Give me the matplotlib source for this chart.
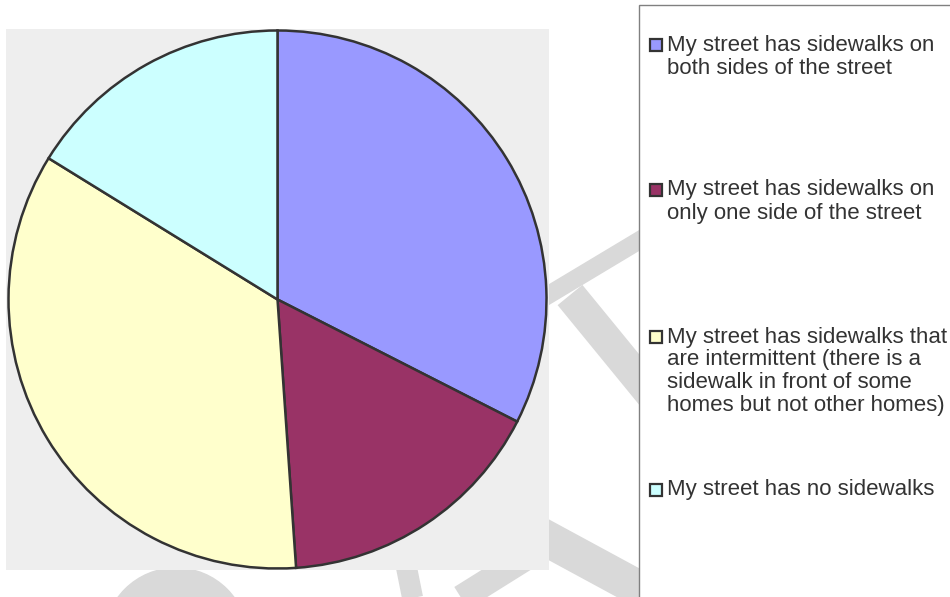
import numpy as np
import matplotlib.pyplot as plt
from matplotlib.patches import Rectangle, Circle

# ================= data =================
labels = [
    "My street has sidewalks on\nboth sides of the street",
    "My street has sidewalks on\nonly one side of the street",
    "My street has sidewalks that\nare intermittent (there is a\nsidewalk in front of some\nhomes but not other homes)",
    "My street has no sidewalks",
]
shares = [32.5, 16.4, 34.9, 16.2]
colors = ["#9999ff", "#993366", "#ffffcc", "#ccffff"]

W, H = 950, 597
PX = 0.72  # points per pixel at dpi 100

plt.rcParams['font.family'] = ['Liberation Sans', 'DejaVu Sans']

fig = plt.figure(figsize=(W / 100, H / 100), dpi=100)

# ---------- background layer (pixel coords, y down) ----------
bg = fig.add_axes([0, 0, 1, 1], zorder=0)
bg.set_xlim(0, W)
bg.set_ylim(H, 0)
bg.axis('off')

# faint watermark strokes
wm = "#d9d9d9"
bg.add_patch(Circle((176, 640), 72, color=wm, zorder=1))
bg.plot([405, 413], [560, 600], color=wm, lw=21 * PX, solid_capstyle='butt', zorder=1)
bg.plot([450, 530], [605, 555], color=wm, lw=26 * PX, solid_capstyle='butt', zorder=1)
bg.plot([540, 660], [300, 228], color=wm, lw=18 * PX, solid_capstyle='butt', zorder=1)
bg.plot([570, 660], [295, 405], color=wm, lw=32 * PX, solid_capstyle='butt', zorder=1)
bg.plot([540, 660], [535, 600], color=wm, lw=36 * PX, solid_capstyle='butt', zorder=1)

# legend box
bg.add_patch(Rectangle((639, 5), 330, 620, facecolor="white",
                       edgecolor="#808080", lw=1.0, zorder=5))

# ---------- pie ----------
x0, x1, y0, y1 = 6, 549, 29, 570
ax = fig.add_axes([x0 / W, (H - y1) / H, (x1 - x0) / W, (y1 - y0) / H], zorder=1)
ax.pie(shares, colors=colors, startangle=90, counterclock=False,
       wedgeprops=dict(edgecolor="#333333", linewidth=1.8))
r = 269.0
ax.set_aspect('auto')
ax.set_xlim(-(x1 - x0) / 2 / r, (x1 - x0) / 2 / r)
ax.set_ylim(-(y1 - y0) / 2 / r, (y1 - y0) / 2 / r)
ax.set_frame_on(True)
ax.set_facecolor("#eeeeee")
for s in ax.spines.values():
    s.set_visible(False)

# ---------- legend entries ----------
entry_y = [45, 190, 337, 490]
line_h = 23
for lab, col, yy in zip(labels, colors, entry_y):
    bg.add_patch(Rectangle((650, yy - 6), 12, 12, facecolor=col,
                           edgecolor="#333333", lw=1.6, zorder=6))
    for i, ln in enumerate(lab.split("\n")):
        bg.text(667, yy + i * line_h, ln, fontsize=16, color="#333333",
                va='center', ha='left', zorder=6)

fig.savefig("out.png", dpi=100)
